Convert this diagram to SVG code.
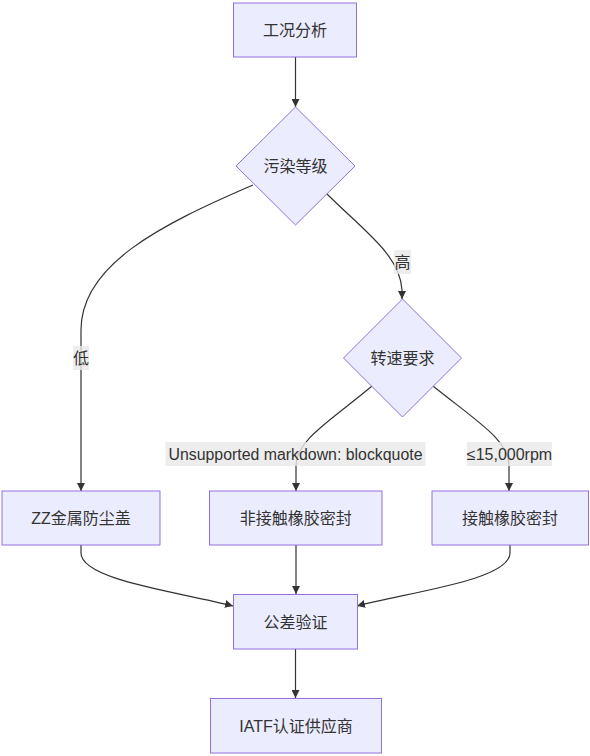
<svg xmlns="http://www.w3.org/2000/svg" width="590" height="756" viewBox="0 0 590 756">
<style>
.node rect,.node polygon{fill:#ECECFF;stroke:#9370DB;stroke-width:1}
text{font-family:"Liberation Sans","Noto Sans CJK SC",sans-serif;font-size:16px;fill:#333;text-anchor:middle;dominant-baseline:central}
.edge{fill:none;stroke:#333;stroke-width:1.2;marker-end:url(#arrow)}
.lbl rect{fill:#e8e8e8;fill-opacity:0.8}
</style>
<defs>
<marker id="arrow" viewBox="0 0 10 10" refX="10" refY="5" markerWidth="8" markerHeight="8" markerUnits="userSpaceOnUse" orient="auto">
<path d="M0,0 L10,5 L0,10 z" fill="#333"/>
</marker>
</defs>
<rect width="590" height="756" fill="#fff"/>
<g id="connectors">
<path class="edge" d="M295.5,57 L295.5,107"/>
<path class="edge" d="M253,185 C160,225 81,265 81,330 L81,491"/>
<path class="edge" d="M326,193 C365,232 400,255 402,290 L402,299"/>
<path class="edge" d="M372,386 C333,419 296,440 296,465 L296,491"/>
<path class="edge" d="M433,386 C475,420 509,440 509,465 L509,491"/>
<path class="edge" d="M81,545 L81,553 C81,580 180,592 233,606"/>
<path class="edge" d="M296,545 L296,594"/>
<path class="edge" d="M510,545 L510,553 C510,580 410,592 357,606"/>
<path class="edge" d="M295.5,649 L295.5,698"/>
<g class="lbl" id="lbl-high"><rect x="394" y="250" width="17" height="24"/><text x="402.5" y="262">高</text></g>
<g class="lbl" id="lbl-low"><rect x="73" y="346" width="16" height="24"/><text x="81" y="358">低</text></g>
<g class="lbl" id="lbl-bq"><rect x="165.5" y="442" width="260" height="24"/><text x="295.5" y="454" textLength="254" lengthAdjust="spacingAndGlyphs">Unsupported markdown: blockquote</text></g>
<g class="lbl" id="lbl-rpm"><rect x="467" y="442" width="85" height="24"/><text x="509.5" y="454">≤15,000rpm</text></g>
</g>
<g class="node" id="n-analysis"><rect x="233.5" y="3" width="123" height="54"/><text x="295" y="30">工况分析</text></g>
<g class="node" id="n-pollution"><polygon points="295.5,107 355,166 295.5,225 236,166"/><text x="295.5" y="166">污染等级</text></g>
<g class="node" id="n-speed"><polygon points="402.5,299 461.5,358 402.5,417 343.5,358"/><text x="402.5" y="358">转速要求</text></g>
<g class="node" id="n-zz"><rect x="2" y="491" width="158" height="54"/><text x="81" y="518">ZZ金属防尘盖</text></g>
<g class="node" id="n-noncontact"><rect x="209.5" y="491" width="172.5" height="54"/><text x="295.7" y="518">非接触橡胶密封</text></g>
<g class="node" id="n-contact"><rect x="432" y="491" width="156.5" height="54"/><text x="510" y="518">接触橡胶密封</text></g>
<g class="node" id="n-tolerance"><rect x="233.5" y="594.5" width="124" height="54.5"/><text x="295.5" y="622">公差验证</text></g>
<g class="node" id="n-iatf"><rect x="210.5" y="698.5" width="171" height="54.5"/><text x="296" y="726">IATF认证供应商</text></g>
</svg>
